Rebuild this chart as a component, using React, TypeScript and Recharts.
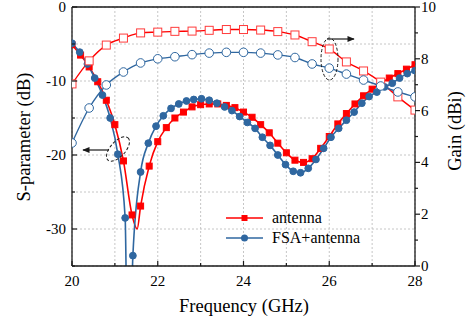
import React from 'react';
import { LineChart, Line, XAxis, YAxis, CartesianGrid, ReferenceLine } from 'recharts';

// S11 of the antenna alone (markers every 0.2 GHz)
const antS11Freq = [
  20.0, 20.2, 20.4, 20.6, 20.8, 21.0, 21.2, 21.4, 21.6, 21.8, 22.0, 22.2, 22.4, 22.6,
  22.8, 23.0, 23.2, 23.4, 23.6, 23.8, 24.0, 24.2, 24.4, 24.6, 24.8, 25.0, 25.2, 25.4,
  25.6, 25.8, 26.0, 26.2, 26.4, 26.6, 26.8, 27.0, 27.2, 27.4, 27.6, 27.8, 28.0,
];
const antS11Val = [
  -5.1, -6.5, -8.1, -10.1, -12.6, -15.9, -20.8, -28.1, -26.9, -21.5, -18.2, -16.3, -15.0, -14.2,
  -13.5, -13.2, -13.1, -13.1, -13.3, -13.6, -14.2, -14.9, -15.9, -17.0, -18.4, -19.7, -20.7, -21.0,
  -20.5, -19.1, -17.5, -15.8, -14.4, -13.1, -12.0, -11.1, -10.3, -9.6, -9.0, -8.4, -7.8,
];
// bottom of the antenna resonance, no marker there
const antS11DipFreq = [21.52];
const antS11DipVal = [-30.0];

// S11 of FSA + antenna
const fsaS11Freq = [
  20.0, 20.18, 20.36, 20.53, 20.71, 20.89, 21.07, 21.24, 21.42, 21.6, 21.78, 21.96, 22.13, 22.31,
  22.49, 22.67, 22.84, 23.02, 23.2, 23.38, 23.56, 23.73, 23.91, 24.09, 24.27, 24.44, 24.62, 24.8,
  24.98, 25.16, 25.33, 25.51, 25.69, 25.87, 26.04, 26.22, 26.4, 26.58, 26.76, 26.93, 27.11, 27.29,
  27.47, 27.64, 27.82, 28.0,
];
const fsaS11Val = [
  -4.9, -6.1, -7.7, -9.6, -11.9, -15.0, -19.9, -28.5, -33.6, -22.3, -18.4, -16.1, -14.7, -13.7,
  -13.1, -12.7, -12.5, -12.4, -12.6, -13.0, -13.5, -14.0, -14.8, -15.6, -16.4, -17.6, -18.7, -20.0,
  -21.3, -22.2, -22.4, -21.8, -20.6, -19.1, -17.6, -16.4, -15.3, -14.2, -13.0, -12.1, -11.5, -10.8,
  -10.3, -9.6, -9.0, -8.6,
];
const fsaS11DipFreq = [21.31];
const fsaS11DipVal = [-55];

// realized gain (dBi)
const gainFreq = [
  20.0, 20.4, 20.8, 21.2, 21.6, 22.0, 22.4, 22.8, 23.2, 23.6, 24.0, 24.4, 24.8, 25.2, 25.6, 26.0,
  26.4, 26.8, 27.2, 27.6, 28.0,
];
const antGain = [
  7.03, 7.92, 8.53, 8.8, 9.0, 9.03, 9.06, 9.07, 9.1, 9.13, 9.13, 9.11, 9.05, 8.92, 8.66, 8.38,
  7.88, 7.53, 7.1, 6.53, 6.02,
];
const fsaGain = [
  4.75, 6.1, 6.99, 7.49, 7.84, 8.0, 8.08, 8.16, 8.22, 8.25, 8.25, 8.22, 8.15, 8.05, 7.8, 7.64,
  7.41, 7.18, 6.95, 6.72, 6.53,
];

const freqTicks = [20, 21, 22, 23, 24, 25, 26, 27, 28];
const freqLabels = [20, 22, 24, 26, 28];
const sTicks = [-35, -30, -25, -20, -15, -10, -5, 0];
const sLabels = [-30, -20, -10, 0];
const gainTicks = [0, 1, 2, 3, 4, 5, 6, 7, 8, 9, 10];
const gainLabels = [0, 2, 4, 6, 8, 10];

const RED = '#ff0000';
const LIGHT_RED = '#ff3b3b';
const BLUE = '#2f67a0';
const INK = '#1a1a1a';
const GRID = '#c6c6c6';
const SERIF = "'Times New Roman', 'Liberation Serif', serif";

const toRows = (fs: number[], vs: number[], dipF: number[] = [], dipV: number[] = []) => {
  const rows = fs.map((f, i) => ({ f, v: vs[i], mark: true }));
  dipF.forEach((f, i) => rows.push({ f, v: dipV[i], mark: false }));
  return rows.sort((a, b) => a.f - b.f);
};

const antS11Rows = toRows(antS11Freq, antS11Val, antS11DipFreq, antS11DipVal);
const fsaS11Rows = toRows(fsaS11Freq, fsaS11Val, fsaS11DipFreq, fsaS11DipVal);
const antGainRows = toRows(gainFreq, antGain);
const fsaGainRows = toRows(gainFreq, fsaGain);

const squareDot = (fill: string, stroke: string, size: number, tag: string) => (props: any) => {
  const { cx, cy, payload, index } = props;
  if (!payload.mark || cx == null || cy == null) return <g key={`${tag}${index}`} />;
  return (
    <rect
      key={`${tag}${index}`}
      x={cx - size / 2}
      y={cy - size / 2}
      width={size}
      height={size}
      fill={fill}
      stroke={stroke}
      strokeWidth={1}
    />
  );
};

const circleDot = (fill: string, r: number, tag: string) => (props: any) => {
  const { cx, cy, payload, index } = props;
  if (!payload.mark || cx == null || cy == null) return <g key={`${tag}${index}`} />;
  return <circle key={`${tag}${index}`} cx={cx} cy={cy} r={r} fill={fill} stroke={BLUE} strokeWidth={1} />;
};

const XTick = (props: any) => {
  const { x, y, payload } = props;
  const major = freqLabels.includes(payload.value);
  return (
    <g>
      <line x1={x} y1={y} x2={x} y2={y - (major ? 5 : 3)} stroke={INK} strokeWidth={1.2} />
      {major && (
        <text x={x} y={y + 19.5} textAnchor="middle" fontSize={15} fontFamily={SERIF} fill="#000">
          {payload.value}
        </text>
      )}
    </g>
  );
};

const LeftTick = (props: any) => {
  const { x, y, payload } = props;
  const major = sLabels.includes(payload.value);
  return (
    <g>
      <line x1={x} y1={y} x2={x + (major ? 5 : 3)} y2={y} stroke={INK} strokeWidth={1.2} />
      {major && (
        <text x={x - 6} y={y + 5} textAnchor="end" fontSize={15} fontFamily={SERIF} fill="#000">
          {payload.value}
        </text>
      )}
    </g>
  );
};

const RightTick = (props: any) => {
  const { x, y, payload } = props;
  const major = gainLabels.includes(payload.value);
  return (
    <g>
      <line x1={x} y1={y} x2={x + (major ? 5 : 3)} y2={y} stroke={INK} strokeWidth={1.2} />
      {major && (
        <text x={x + 6} y={y + 5} textAnchor="start" fontSize={15} fontFamily={SERIF} fill="#000">
          {payload.value}
        </text>
      )}
    </g>
  );
};

const Overlay = () => (
  <svg
    width={468}
    height={322}
    style={{ position: 'absolute', left: 0, top: 0, pointerEvents: 'none' }}
    fontFamily={SERIF}
  >
    <defs>
      <marker id="head" viewBox="0 0 10 10" refX="9" refY="5" markerWidth="8" markerHeight="6" orient="auto">
        <path d="M0,1 L10,5 L0,9 z" fill={INK} />
      </marker>
    </defs>
    {/* axis titles */}
    <text x={244} y={312} textAnchor="middle" fontSize={18.5} fill="#000">
      Frequency (GHz)
    </text>
    <text x={30} y={137} textAnchor="middle" fontSize={18.5} fill="#000" transform="rotate(-90 30 137)">
      S-parameter (dB)
    </text>
    <text x={461} y={131} textAnchor="middle" fontSize={18.5} fill="#000" transform="rotate(-90 461 131)">
      Gain (dBi)
    </text>

    {/* callouts */}
    <ellipse cx={118} cy={149} rx={15} ry={7.5} transform="rotate(-48 118 149)" fill="none" stroke={INK} strokeWidth={1} strokeDasharray="3 2" />
    <line x1={109} y1={150} x2={83} y2={150} stroke={INK} strokeWidth={1.2} markerEnd="url(#head)" />
    <ellipse cx={329.5} cy={59} rx={8.5} ry={21} fill="none" stroke={INK} strokeWidth={1} strokeDasharray="3 2" />
    <line x1={327} y1={39} x2={354} y2={39} stroke={INK} strokeWidth={1.2} markerEnd="url(#head)" />

    {/* legend */}
    <line x1={226} y1={218} x2={263} y2={218} stroke={RED} strokeWidth={1.6} />
    <rect x={241.5} y={215} width={6} height={6} fill={RED} />
    <text x={272} y={222.5} fontSize={16} fill="#000">
      antenna
    </text>
    <line x1={226} y1={238} x2={263} y2={238} stroke={BLUE} strokeWidth={1.6} />
    <circle cx={244.5} cy={238} r={3.5} fill={BLUE} />
    <text x={272} y={242.5} fontSize={16} fill="#000">
      FSA+antenna
    </text>
  </svg>
);

export default function App() {
  return (
    <div
      style={{
        position: 'absolute',
        left: 0,
        top: 0,
        width: 468,
        height: 322,
        background: '#fff',
        pointerEvents: 'none',
      }}
    >
      <LineChart
        width={468}
        height={322}
        margin={{ top: 7, right: 13, bottom: 26, left: 22 }}
        accessibilityLayer={false}
      >
        <CartesianGrid yAxisId="left" stroke={GRID} strokeDasharray="2 2" />
        <XAxis
          dataKey="f"
          type="number"
          domain={[20, 28]}
          ticks={freqTicks}
          interval={0}
          height={30}
          tickSize={0}
          tickMargin={0}
          tickLine={false}
          tick={<XTick />}
          axisLine={{ stroke: INK, strokeWidth: 1.3 }}
          allowDataOverflow
        />
        <YAxis
          yAxisId="left"
          domain={[-35, 0]}
          ticks={sTicks}
          interval={0}
          width={50}
          tickSize={0}
          tickMargin={0}
          tickLine={false}
          tick={<LeftTick />}
          axisLine={{ stroke: INK, strokeWidth: 1.3 }}
          allowDataOverflow
        />
        <YAxis
          yAxisId="right"
          orientation="right"
          domain={[0, 10]}
          ticks={gainTicks}
          interval={0}
          width={40}
          tickSize={0}
          tickMargin={0}
          tickLine={false}
          tick={<RightTick />}
          axisLine={{ stroke: INK, strokeWidth: 1.3 }}
          allowDataOverflow
        />
        <ReferenceLine yAxisId="left" y={0} stroke={INK} strokeWidth={1.3} />
        <Line
          yAxisId="left"
          data={antS11Rows}
          dataKey="v"
          type="monotone"
          stroke={RED}
          strokeWidth={1.6}
          dot={squareDot(RED, RED, 6, 'as')}
          activeDot={false}
          isAnimationActive={false}
        />
        <Line
          yAxisId="left"
          data={fsaS11Rows}
          dataKey="v"
          type="monotone"
          stroke={BLUE}
          strokeWidth={1.6}
          dot={circleDot(BLUE, 3.4, 'fs')}
          activeDot={false}
          isAnimationActive={false}
        />
        <Line
          yAxisId="right"
          data={antGainRows}
          dataKey="v"
          type="monotone"
          stroke={RED}
          strokeWidth={1.4}
          dot={squareDot('#ffffff', LIGHT_RED, 8, 'ag')}
          activeDot={false}
          isAnimationActive={false}
        />
        <Line
          yAxisId="right"
          data={fsaGainRows}
          dataKey="v"
          type="monotone"
          stroke={BLUE}
          strokeWidth={1.4}
          dot={circleDot('#ffffff', 4.3, 'fg')}
          activeDot={false}
          isAnimationActive={false}
        />
      </LineChart>
      <Overlay />
    </div>
  );
}
